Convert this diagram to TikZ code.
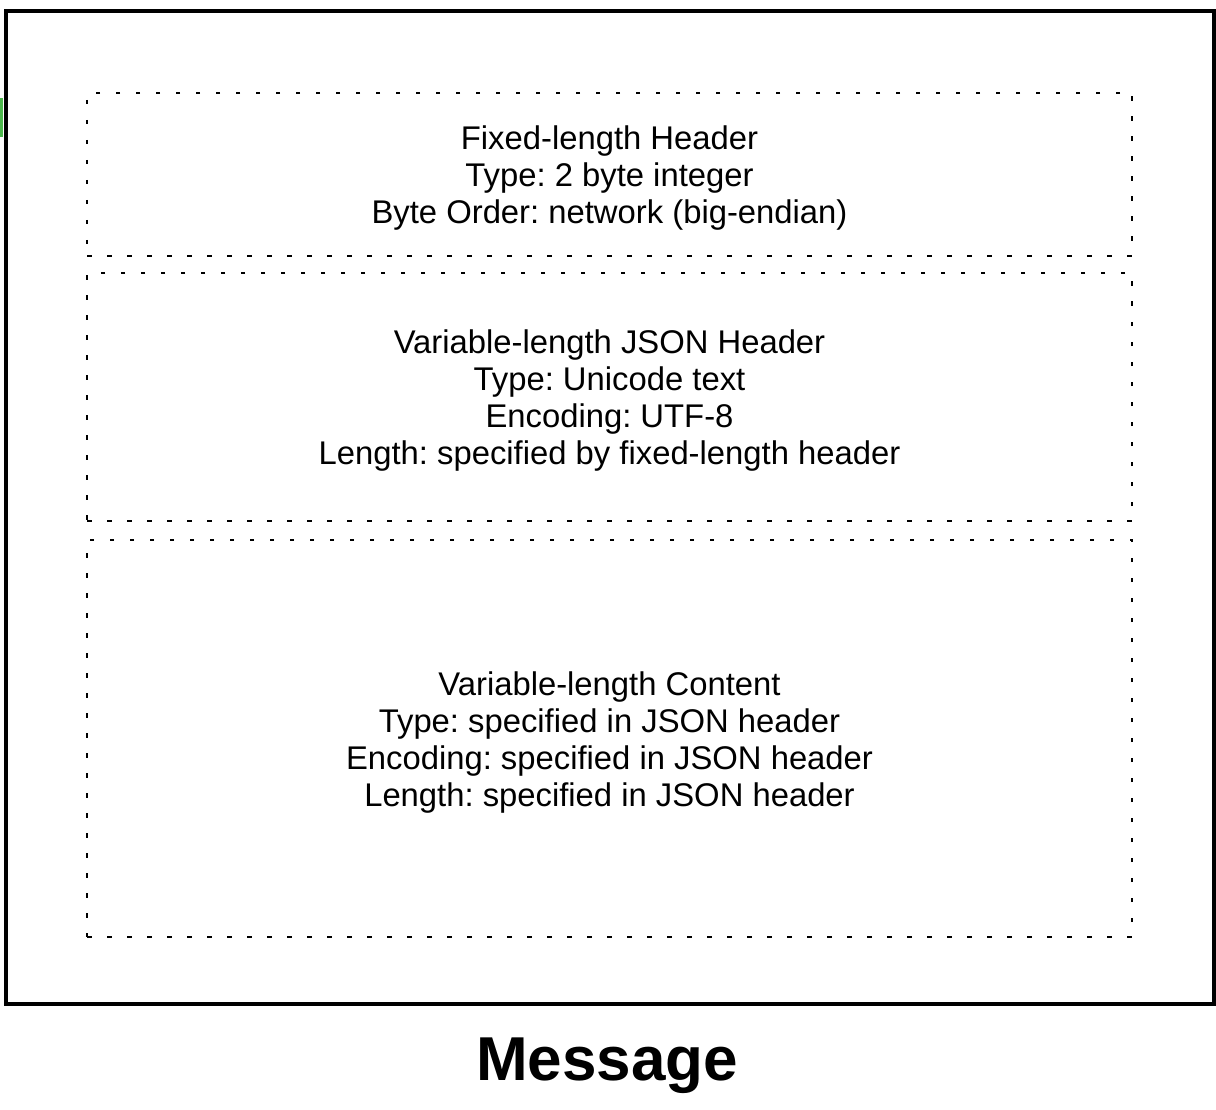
\documentclass[tikz,border=0pt]{standalone}
\usepackage{fontspec}
\setmainfont{Liberation Sans}
\frenchspacing
\begin{document}
\begin{tikzpicture}[x=1pt,y=-1pt,
  outerbox/.style={draw=black, line width=4pt, minimum width=1207.5pt, minimum height=992pt, inner sep=0pt},
  dotbox/.style={draw=black, line width=2.2pt, dash pattern=on 4.5pt off 15.5pt, minimum width=1045pt, inner sep=0pt},
  boxtext/.style={align=center, inner sep=0pt, font=\fontsize{32.8}{37}\selectfont},
  titlefont/.style={font=\fontsize{62}{70}\selectfont\bfseries, inner sep=0pt}]
\useasboundingbox (0,0) rectangle (1216,1110);
\fill[white] (0,0) rectangle (1216,1110);
\fill[green!60!black!70] (0,98) rectangle (2.5,137);
\node[outerbox] (outer) at (609.75,507.5) {};
\node[dotbox, minimum height=163pt] (fixed) at (609.5,174.5) {};
\node[dotbox, minimum height=248pt] (json) at (609.5,397) {};
\node[dotbox, minimum height=397pt] (content) at (609.5,738.5) {};
\node[boxtext] (fixedtext) at ([yshift=-4pt]fixed.center) {Fixed-length Header\\Type: 2 byte integer\\Byte Order: network (big-endian)};
\node[boxtext] (jsontext) at ([yshift=-4pt]json.center) {Variable-length JSON Header\\Type: Unicode text\\Encoding: UTF-8\\Length: specified by fixed-length header};
\node[boxtext] (contenttext) at ([yshift=-4pt]content.center) {Variable-length Content\\Type: specified in JSON header\\Encoding: specified in JSON header\\Length: specified in JSON header};
\node[titlefont, anchor=base] (title) at (607,1080) {Message};
\end{tikzpicture}
\end{document}
